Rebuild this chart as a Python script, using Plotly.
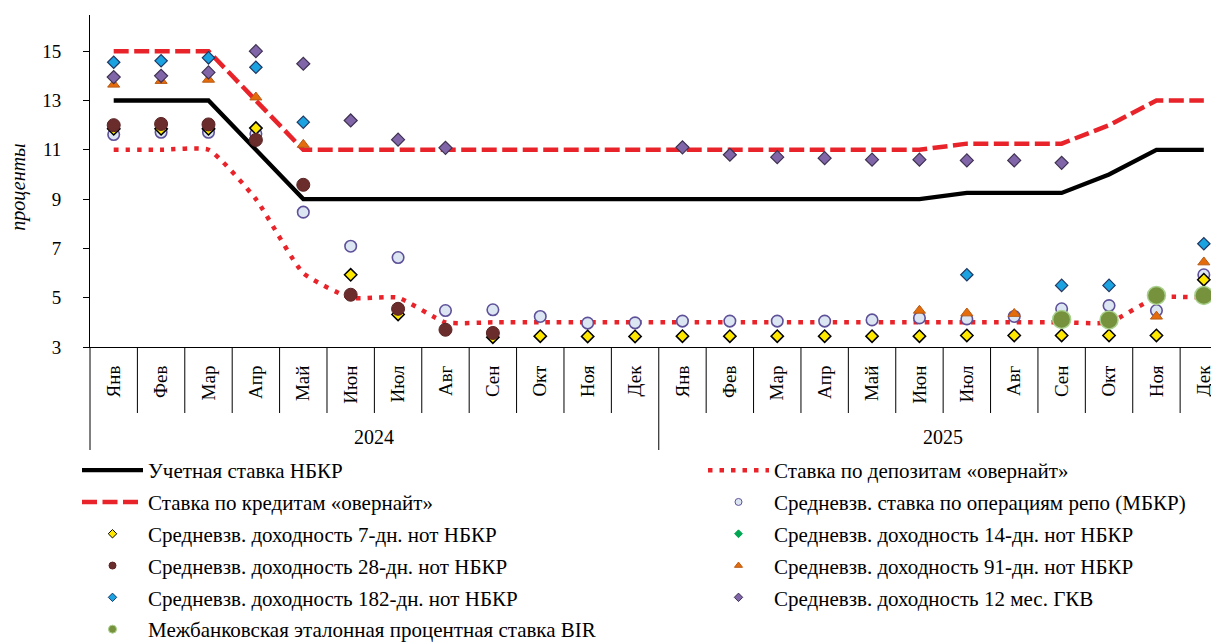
import plotly.graph_objects as go

# ---------------- data ----------------
month_labels = ["Янв", "Фев", "Мар", "Апр", "Май", "Июн", "Июл", "Авг", "Сен", "Окт", "Ноя", "Дек",
                "Янв", "Фев", "Мар", "Апр", "Май", "Июн", "Июл", "Авг", "Сен", "Окт", "Ноя", "Дек"]
year_labels = ["2024", "2025"]
months_per_year = 12
y_ticks = [3, 5, 7, 9, 11, 13, 15]

key_rate = [13, 13, 13, 11, 9, 9, 9, 9, 9, 9, 9, 9,
            9, 9, 9, 9, 9, 9, 9.25, 9.25, 9.25, 10, 11, 11]
credit_overnight = [15, 15, 15, 13, 11, 11, 11, 11, 11, 11, 11, 11,
                    11, 11, 11, 11, 11, 11, 11.25, 11.25, 11.25, 12, 13, 13]
deposit_overnight = [11, 11, 11, 9, 6, 5, 5, 4, 4, 4, 4, 4,
                     4, 4, 4, 4, 4, 4, 4, 4, 4, 4, 5, 5]
repo = [11.62, 11.71, 11.71, 11.65, 8.47, 7.09, 6.63, 4.48, 4.51, 4.24, 3.97, 3.98,
        4.05, 4.05, 4.05, 4.05, 4.1, 4.18, 4.14, 4.24, 4.55, 4.68, 4.48, 5.93]
notes_7d = [11.85, 11.85, 11.85, 11.88, None, 5.93, 4.32, None, 3.40, 3.44, 3.43, 3.43,
            3.44, 3.44, 3.44, 3.44, 3.44, 3.44, 3.47, 3.47, 3.47, 3.47, 3.47, 5.73]
notes_14d = [None, None, None, None, None, None, None, None, None, None, None, None,
             None, None, None, None, None, None, None, None, None, None, None, None]
notes_28d = [12.0, 12.05, 12.03, 11.4, 9.58, 5.12, 4.55, 3.70, 3.57, None, None, None,
             None, None, None, None, None, None, None, None, None, None, None, None]
notes_91d = [13.65, 13.8, 13.85, 13.13, 11.21, None, None, None, None, None, None, None,
             None, None, None, None, None, 4.48, 4.37, 4.35, None, None, 4.24, 6.44]
notes_182d = [14.55, 14.61, 14.73, 14.35, 12.12, None, None, None, None, None, None, None,
              None, None, None, None, None, None, 5.93, None, 5.5, 5.5, None, 7.19]
gkv_12m = [13.95, 14.0, 14.14, 15.0, 14.49, 12.19, 11.41, 11.08, None, None, None, None,
           11.1, 10.8, 10.7, 10.66, 10.6, 10.6, 10.57, 10.57, 10.47, None, None, None]
bir = [None, None, None, None, None, None, None, None, None, None, None, None,
       None, None, None, None, None, None, None, None, 4.12, 4.1, 5.09, 5.09]

names = {
    "key": "Учетная ставка НБКР",
    "dep": "Ставка по депозитам «овернайт»",
    "cred": "Ставка по кредитам «овернайт»",
    "repo": "Средневзв. ставка по операциям репо (МБКР)",
    "n7": "Средневзв. доходность 7-дн. нот НБКР",
    "n14": "Средневзв. доходность 14-дн. нот НБКР",
    "n28": "Средневзв. доходность 28-дн. нот НБКР",
    "n91": "Средневзв. доходность 91-дн. нот НБКР",
    "n182": "Средневзв. доходность 182-дн. нот НБКР",
    "g12": "Средневзв. доходность 12 мес. ГКВ",
    "bir": "Межбанковская эталонная процентная ставка BIR",
}

# ---------------- styling ----------------
FONT = "Liberation Serif"
RED = "#E8242A"
OFF = 8  # page body margin of the browser
W, H = 1219 - OFF, 643 - OFF
ML, MR, MT, MB = 90 - OFF, 0, 15 - OFF, 296
PX_PER_UNIT = 24.65
plot_h = H - MT - MB
plot_w = W - ML - MR
y_range = [3, 3 + plot_h / PX_PER_UNIT]
x = list(range(len(month_labels)))
x_range = [-0.5, 23.32]
LEG_FONT = 21

fig = go.Figure()

# lines
fig.add_trace(go.Scatter(x=x, y=key_rate, mode="lines", name=names["key"],
                         line=dict(color="#000000", width=4.3),
                         legend="legend", legendgroup="key"))
fig.add_trace(go.Scatter(x=x, y=credit_overnight, mode="lines", name=names["cred"],
                         line=dict(color=RED, width=4.5, dash="15px,5.5px"),
                         legend="legend", legendgroup="cred"))
fig.add_trace(go.Scatter(x=x, y=deposit_overnight, mode="lines", name=names["dep"],
                         line=dict(color=RED, width=4.5, dash="4.5px,7px", shape="spline", smoothing=0.5),
                         legend="legend2", legendgroup="dep"))

# markers (chart)
marker_specs = [
    ("repo", repo, dict(symbol="circle", size=11.5, color="#DCE6F2", line=dict(color="#5E5099", width=1.6)), 7, "legend2"),
    ("n7", notes_7d, dict(symbol="diamond", size=9.5, color="#FFE800", line=dict(color="#000000", width=1.5)), 6.5, "legend"),
    ("n14", notes_14d, dict(symbol="diamond", size=9, color="#00A651", line=dict(color="#00A651", width=1)), 6, "legend2"),
    ("n28", notes_28d, dict(symbol="circle", size=13, color="#6B2C2C", line=dict(color="#5A2424", width=1)), 7, "legend"),
    ("n91", notes_91d, dict(symbol="triangle-up", size=10.5, color="#E46C0A", line=dict(color="#B85A14", width=1)), 7, "legend2"),
    ("n182", notes_182d, dict(symbol="diamond", size=9.5, color="#1AA3E0", line=dict(color="#1F3864", width=1.2)), 6.5, "legend"),
    ("g12", gkv_12m, dict(symbol="diamond", size=10, color="#8066A8", line=dict(color="#3F3151", width=1.2)), 6.5, "legend2"),
    ("bir", bir, dict(symbol="circle", size=18, color="#76923C", line=dict(color="#A9D18E", width=1.5)), 8, "legend"),
]
for key, vals, mk, _, lg in marker_specs:
    fig.add_trace(go.Scatter(x=x, y=vals, mode="markers", name=names[key], marker=mk,
                             showlegend=False, legend=lg, legendgroup=key))

# legend proxies (smaller symbols, same group as the data trace)
legend_order = ["n7", "n28", "n182", "bir", "repo", "n14", "n91", "g12"]
spec_by_key = {s[0]: s for s in marker_specs}
for key in legend_order:
    _, _, mk, lsize, lg = spec_by_key[key]
    small = dict(mk)
    small["size"] = lsize
    small["line"] = dict(color=mk["line"]["color"], width=1)
    fig.add_trace(go.Scatter(x=[None], y=[None], mode="markers", name=names[key], marker=small,
                             showlegend=True, legend=lg, legendgroup=key))

# category separators below the axis
n = len(month_labels)
for k in range(1, n):
    is_year = (k % months_per_year == 0)
    fig.add_shape(type="line", xref="x", yref="paper", x0=k - 0.5, x1=k - 0.5,
                  ysizemode="pixel", yanchor=0, y0=0, y1=-(103 if is_year else 66),
                  line=dict(color="#000000", width=1))
fig.add_shape(type="line", xref="paper", yref="paper", x0=0, x1=0,
              ysizemode="pixel", yanchor=0, y0=0, y1=-103, line=dict(color="#000000", width=1))

# year labels
for i, yl in enumerate(year_labels):
    fig.add_annotation(x=i * months_per_year + (months_per_year - 1) / 2, xref="x",
                       y=0, yref="paper", yshift=-90, yanchor="middle",
                       text=yl, showarrow=False, font=dict(family=FONT, size=20, color="#000000"))

# y axis title
fig.add_annotation(x=-(ML - (19 - OFF)) / plot_w, xref="paper", xanchor="center",
                   y=0.48, yref="paper", yanchor="middle",
                   text="<i>проценты</i>", textangle=-90, showarrow=False,
                   font=dict(family=FONT, size=20, color="#000000"))

legend_top = (H - MB - (450 - OFF)) / plot_h
fig.update_layout(
    width=W, height=H,
    margin=dict(l=ML, r=MR, t=MT, b=MB, autoexpand=False),
    paper_bgcolor="white", plot_bgcolor="white",
    font=dict(family=FONT, size=18, color="#000000"),
    xaxis=dict(range=x_range, tickmode="array", tickvals=x, ticktext=month_labels,
               tickangle=-90, ticks="", ticklabelstandoff=10, showgrid=False, zeroline=False,
               showline=True, linecolor="#000000", linewidth=1,
               tickfont=dict(family=FONT, size=19, color="#000000")),
    yaxis=dict(range=y_range, tickmode="array", tickvals=y_ticks, ticks="outside", ticklen=6,
               tickcolor="#000000", showgrid=False, zeroline=False, showline=True,
               linecolor="#000000", linewidth=1, ticklabelstandoff=18,
               tickfont=dict(family=FONT, size=19, color="#000000")),
    legend=dict(x=(77 - 90) / plot_w, xanchor="left", y=legend_top, yanchor="top",
                orientation="v", tracegroupgap=1.5, itemwidth=61, bgcolor="rgba(0,0,0,0)",
                font=dict(family=FONT, size=LEG_FONT, color="#000000"), valign="middle"),
    legend2=dict(x=(703 - 90) / plot_w, xanchor="left", y=legend_top, yanchor="top",
                 orientation="v", tracegroupgap=1.5, itemwidth=61, bgcolor="rgba(0,0,0,0)",
                 font=dict(family=FONT, size=LEG_FONT, color="#000000"), valign="middle"),
)

fig.write_html("out.html")
